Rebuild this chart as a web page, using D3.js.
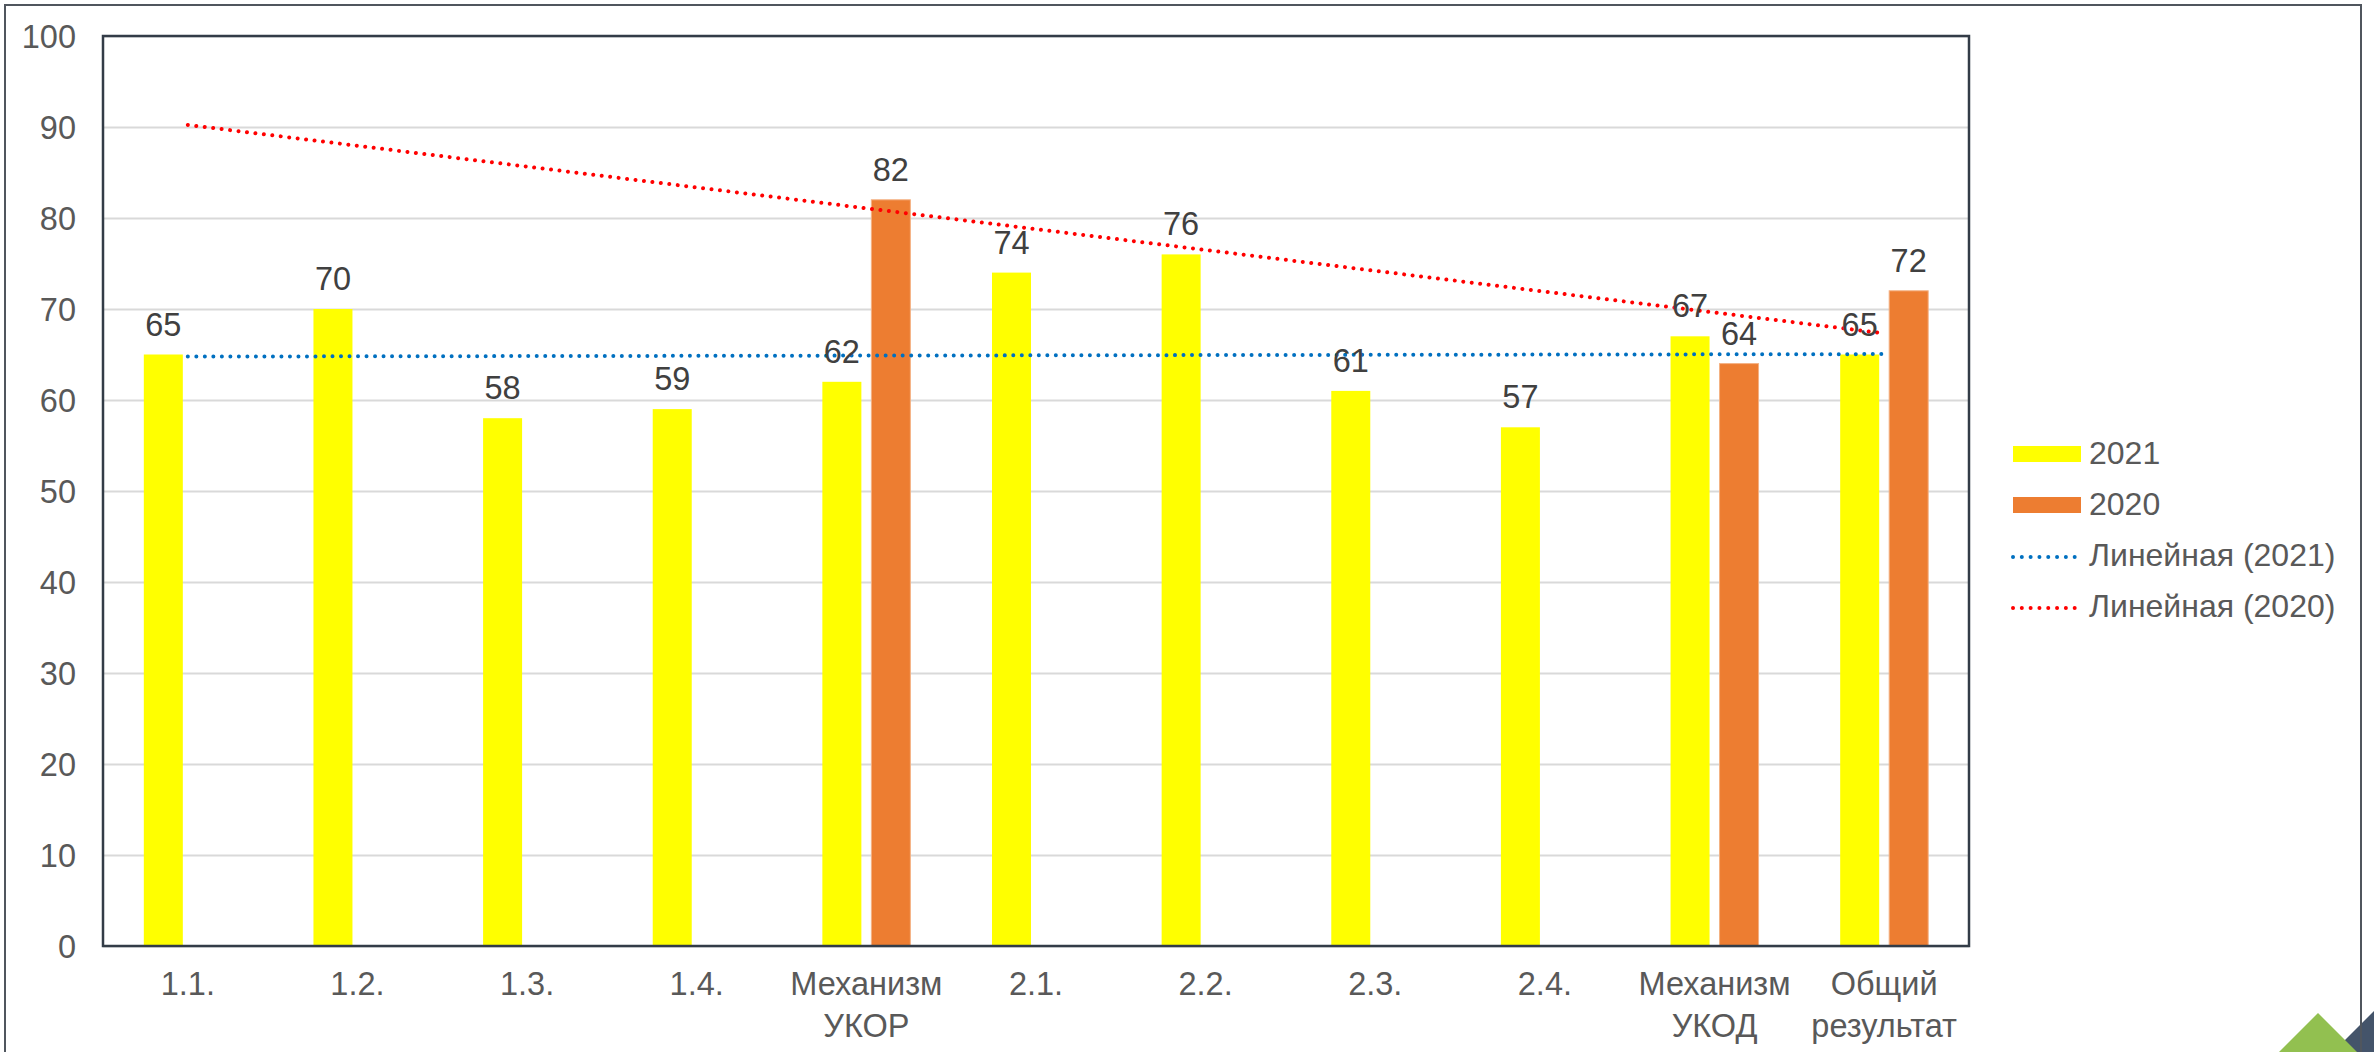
<!DOCTYPE html>
<html><head><meta charset="utf-8">
<script src="https://cdn.jsdelivr.net/npm/d3@7"></script>
<style>html,body{margin:0;padding:0;background:#fff;overflow:hidden}svg{display:block}</style>
</head><body>
<svg id="c" width="2374" height="1052"></svg>
<script>
const categories = ["1.1.","1.2.","1.3.","1.4.","Механизм\nУКОР","2.1.","2.2.","2.3.","2.4.","Механизм\nУКОД","Общий\nрезультат"];
const series = ["2021","2020"];
const values2021 = [65,70,58,59,62,74,76,61,57,67,65];
const values2020 = [null,null,null,null,82,null,null,null,null,64,72];
const yTicks = [0,10,20,30,40,50,60,70,80,90,100];
const legendLabels = ["2021","2020","Линейная (2021)","Линейная (2020)"];

const colors = {"2021":"#FFFF00","2020":"#ED7D31"};
const svg = d3.select("#c");
const L=103,R=1969,T=36,B=946;
const font = "'Liberation Sans', Arial, sans-serif";
const fs = 32.5;

// decorative triangles
svg.append("path").attr("d","M2333,1052 L2374,1011 L2374,1052 Z").attr("fill","#44546A");
svg.append("path").attr("d","M2279,1052 L2318,1013 L2357,1052 Z").attr("fill","#92C050");

// outer frame
svg.append("path").attr("d","M5,1060 L5,5 L2361,5 L2361,1060").attr("fill","none").attr("stroke","#50565e").attr("stroke-width",2);

const x0 = d3.scaleBand().domain(d3.range(categories.length)).range([L,R]).padding(0);
const bw = x0.bandwidth();
const x1 = d3.scaleBand().domain(series).range([bw/2-44, bw/2+44]).paddingInner(0.204).paddingOuter(0);
const y = d3.scaleLinear().domain([0,100]).range([B,T]);

// gridlines + y labels
const yAxis = d3.axisLeft(y).tickValues(yTicks).tickSize(-(R-L)).tickFormat(d=>d);
const ga = svg.append("g").attr("transform",`translate(${L},0)`).call(yAxis);
ga.select(".domain").remove();
ga.selectAll(".tick line").attr("stroke","#d9d9d9").attr("stroke-width",2);
ga.selectAll(".tick text").attr("x",-27).attr("font-family",font).attr("font-size",fs).attr("fill","#595959").attr("dy","0.35em");

// bars
const data = [];
categories.forEach((c,i)=>{
  if(values2021[i]!=null) data.push({i,s:"2021",v:values2021[i]});
  if(values2020[i]!=null) data.push({i,s:"2020",v:values2020[i]});
});
svg.append("g").selectAll("rect").data(data).join("rect")
  .attr("x",d=>x0(d.i)+x1(d.s)).attr("width",x1.bandwidth())
  .attr("y",d=>y(d.v)).attr("height",d=>B-y(d.v))
  .attr("fill",d=>colors[d.s])
  .attr("stroke",d=>d.s==="2020"?"#f4b183":"none").attr("stroke-width",1);

// trendlines (least squares from data)
function trend(vals){
  const pts = vals.map((v,i)=>[i+1,v]).filter(p=>p[1]!=null);
  const mx=d3.mean(pts,p=>p[0]), my=d3.mean(pts,p=>p[1]);
  const sxy=d3.sum(pts,p=>(p[0]-mx)*(p[1]-my)), sxx=d3.sum(pts,p=>(p[0]-mx)**2);
  const b=sxy/sxx, a=my-b*mx;
  return [1,vals.length].map(xv=>[xv-1,a+b*xv]);
}
const line = d3.line().x(d=>x0(d[0])+bw/2).y(d=>y(d[1]));
[["2021","#0070C0"],["2020","#FF0000"]].forEach(([s,col])=>{
  const vals = s==="2021"?values2021:values2020;
  svg.append("path").attr("d",line(trend(vals))).attr("fill","none")
    .attr("stroke",col).attr("stroke-width",4).attr("stroke-linecap","round").attr("stroke-dasharray","0.01 8.5");
});

// data labels
svg.append("g").selectAll("text").data(data).join("text")
  .attr("x",d=>x0(d.i)+x1(d.s)+x1.bandwidth()/2).attr("y",d=>y(d.v)-19)
  .attr("text-anchor","middle").attr("font-family",font).attr("font-size",fs).attr("fill","#404040")
  .text(d=>d.v);

// plot border
svg.append("rect").attr("x",L).attr("y",T).attr("width",R-L).attr("height",B-T)
  .attr("fill","none").attr("stroke","#333c47").attr("stroke-width",2.5);

// x labels
const xl = svg.append("g");
categories.forEach((c,i)=>{
  const t = xl.append("text").attr("text-anchor","middle").attr("font-family",font).attr("font-size",fs).attr("fill","#595959");
  c.split("\n").forEach((ln,k)=>{
    t.append("tspan").attr("x",x0(i)+bw/2).attr("y",995+k*42).text(ln);
  });
});

// legend
const lg = svg.append("g");
const rowY = [464,515,566,617];
legendLabels.forEach((lab,k)=>{
  const yy = rowY[k];
  if(k<2){
    lg.append("rect").attr("x",2013).attr("y",yy-18).attr("width",68).attr("height",16).attr("fill",colors[series[k]]);
  } else {
    lg.append("line").attr("x1",2013).attr("x2",2076).attr("y1",yy-9).attr("y2",yy-9)
      .attr("stroke",k===2?"#0070C0":"#FF0000").attr("stroke-width",4).attr("stroke-linecap","round").attr("stroke-dasharray","0.01 8.8");
  }
  lg.append("text").attr("x",2089).attr("y",yy).attr("font-family",font).attr("font-size",32).attr("fill","#595959").text(lab);
});
</script>
</body></html>
